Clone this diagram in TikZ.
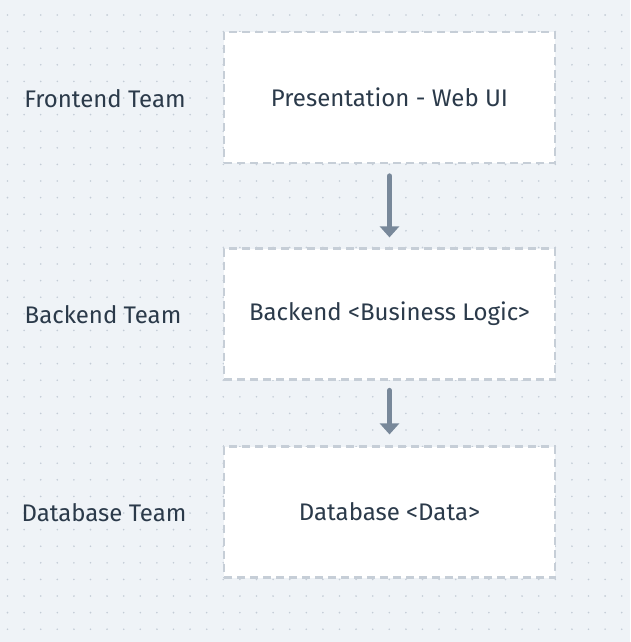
\documentclass[tikz,border=0pt]{standalone}
\usepackage{fontspec}
\setmainfont{Fira Sans}
\usetikzlibrary{arrows.meta}
\definecolor{bgcol}{HTML}{EFF3F7}
\definecolor{dotcol}{HTML}{C3CCD6}
\definecolor{dashcol}{HTML}{C6CED7}
\definecolor{arrowcol}{HTML}{78889A}
\definecolor{textcol}{HTML}{2B3A4A}
\tikzset{
  layerbox/.style={draw=dashcol,fill=white,line width=2.2pt,dash pattern=on 8pt off 5pt,
    minimum width=331pt,minimum height=131pt,text=textcol,font=\fontsize{24}{28}\selectfont},
  teamlabel/.style={text=textcol,font=\fontsize{24}{28}\selectfont},
  flow/.style={draw=arrowcol,line width=5.5pt,line cap=round,
    -{Triangle[length=11pt,width=19pt]}}
}
\begin{document}
\begin{tikzpicture}[x=1pt,y=-1pt]
        %% background
        \fill[bgcol] (0,0) rectangle (630,642);
        \useasboundingbox (0,0) rectangle (630,642);
        %% dot grid
        \foreach \i in {0,...,37}
          \foreach \j in {0,...,37}
            \fill[dotcol] ({7.5+16.6*\i},{15+16.6*\j}) circle (0.9pt);
        %% layers
        \node[layerbox] (web) at (389.5,97.5) {Presentation - Web UI};
        \node[layerbox] (logic) at (389.5,314) {Backend <Business Logic>};
        \node[layerbox] (data) at (389.5,512) {Database <Data>};
        %% teams
        \node[teamlabel] (front) at (105,99) {Frontend Team};
        \node[teamlabel] (back) at (103,315) {Backend Team};
        \node[teamlabel] (dbteam) at (104,513) {Database Team};
        %% arrows
        \draw[flow,shorten <=12pt,shorten >=10pt] (web.south) -- (logic.north);
        \draw[flow,shorten <=10pt,shorten >=11pt] (logic.south) -- (data.north);
    \end{tikzpicture}
\end{document}
